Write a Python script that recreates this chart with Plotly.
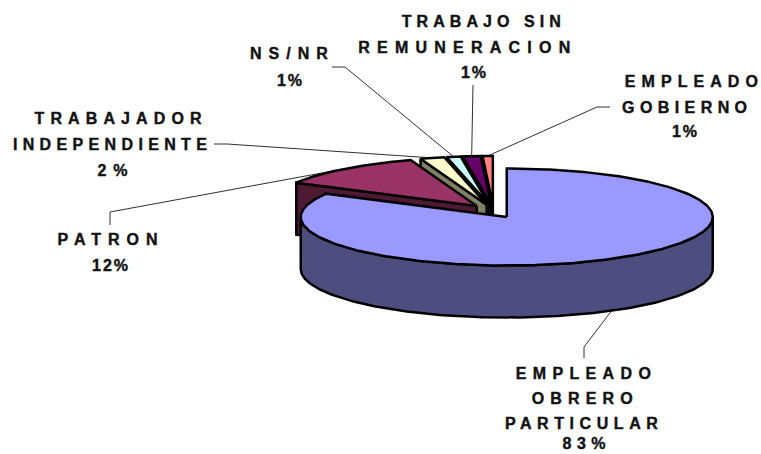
import numpy as np
import plotly.graph_objects as go

# ---- data ----
categories = ["EMPLEADO OBRERO PARTICULAR", "PATRON", "TRABAJADOR INDEPENDIENTE",
              "NS/NR", "TRABAJO SIN REMUNERACION", "EMPLEADO GOBIERNO"]
values = [83.0, 11.8, 1.9, 1.1, 1.4, 0.8]
percent_labels = ["83%", "12%", "2%", "1%", "1%", "1%"]
top_colors = ["#9999FF", "#993366", "#FFFFCC", "#CCFFFF", "#660066", "#FF8080"]
side_colors = ["#4D4D80", "#4D1933", "#808066", "#668080", "#330033", "#804040"]

# ---- pie geometry (pixel-based axes) ----
W, H = 761, 454
CX, CY = 493.5, 211.2
RX, RY = 206.0, 48.5
DEPTH = 52.0
EXPLODE = 26.0
EXPLODE_Y = 0.26
LINE = 2.5

total = sum(values)
spans = []
start = 0.0
for v in values:
    end = start + v / total * 360.0
    spans.append((start, end))
    start = end


def apex(s, e):
    m = np.radians((s + e) / 2)
    return CX + EXPLODE * np.sin(m), CY - EXPLODE * np.cos(m) * EXPLODE_Y


def rim(ax, ay, deg):
    t = np.radians(deg)
    return ax + RX * np.sin(t), ay - RY * np.cos(t)


def poly(xs, ys, fill):
    return go.Scatter(x=list(xs) + [xs[0]], y=list(ys) + [ys[0]], mode="lines",
                      fill="toself", fillcolor=fill,
                      line=dict(color="black", width=LINE, shape="linear"),
                      hoverinfo="skip", showlegend=False)


fig = go.Figure()

# ---- leader lines: label elbow to the middle of each slice's rim ----
leader_stubs = {
    0: [(584, 358), (584, 347)],
    1: [(110, 225), (110, 212)],
    2: [(214, 144), (227, 144)],
    3: [(332, 67), (345, 67)],
    4: [(473, 85)],
    5: [(610, 107), (597, 107)],
}
for i, pts in leader_stubs.items():
    s, e = spans[i]
    ax, ay = apex(s, e)
    mx, my = rim(ax, ay, (s + e) / 2)
    if i == 0:
        my += DEPTH
    xs = [p[0] for p in pts] + [mx]
    ys = [p[1] for p in pts] + [my]
    fig.add_trace(go.Scatter(x=xs, y=ys, mode="lines",
                             line=dict(color="#303030", width=1),
                             hoverinfo="skip", showlegend=False))

# ---- slices, far to near ----
for i in [5, 4, 3, 2, 1, 0]:
    s, e = spans[i]
    ax, ay = apex(s, e)
    # cut faces that turn toward the viewer
    for deg, show in ((s, np.sin(np.radians(s)) < -1e-6), (e, np.sin(np.radians(e)) > 1e-6)):
        if show:
            rx_, ry_ = rim(ax, ay, deg)
            fig.add_trace(poly([ax, rx_, rx_, ax], [ay, ry_, ry_ + DEPTH, ay + DEPTH], side_colors[i]))
    # outer wall
    lo, hi = max(s, 90.0), min(e, 270.0)
    if lo < hi:
        deg = np.arange(lo, hi + 0.5, 1.0)
        xr, yr = rim(ax, ay, deg)
        fig.add_trace(poly(np.r_[xr, xr[::-1]], np.r_[yr, yr[::-1] + DEPTH], side_colors[i]))
    # top face
    deg = np.r_[np.arange(s, e, 1.0), e]
    xr, yr = rim(ax, ay, deg)
    fig.add_trace(poly(np.r_[ax, xr], np.r_[ay, yr], top_colors[i]))

# ---- label lines: text, centre x, centre y, drawn width ----
label_lines = [
    ("EMPLEADO", 583, 373, 135), ("OBRERO", 582, 398, 101), ("PARTICULAR", 581, 423, 153),
    (percent_labels[0], 584, 443.5, 43),
    ("PATRON", 107, 239, 100), (percent_labels[1], 110, 265, 36),
    ("TRABAJADOR", 118, 118, 167), ("INDEPENDIENTE", 110, 144, 194), (percent_labels[2], 112, 170, 30),
    ("NS/NR", 289, 53, 78), (percent_labels[3], 289, 80, 25),
    ("TRABAJO SIN", 481, 21, 159), ("REMUNERACION", 464, 47, 212), (percent_labels[4], 473, 72, 25),
    ("EMPLEADO", 691, 81, 133), ("GOBIERNO", 684, 107, 125), (percent_labels[5], 684, 131, 25),
]
for text, x, y, _ in label_lines:
    fig.add_annotation(x=x, y=y, text=text, showarrow=False, xanchor="center", yanchor="middle",
                       font=dict(family="Liberation Sans", size=16, color="#111111", weight="bold"))

fig.update_layout(
    width=W, height=H, margin=dict(l=0, r=0, t=0, b=0),
    paper_bgcolor="white", plot_bgcolor="white", showlegend=False,
    xaxis=dict(range=[0, W], visible=False, fixedrange=True),
    yaxis=dict(range=[H, 0], visible=False, fixedrange=True),
)

widths = [w for *_, w in label_lines]
post = """
document.body.style.margin = '0';
var w = %s;
document.querySelectorAll('text.annotation-text').forEach(function (t, i) {
  t.setAttribute('textLength', w[i]);
  t.setAttribute('lengthAdjust', 'spacing');
  t.style.fontWeight = '700';
  t.style.stroke = '#111111';
  t.style.strokeWidth = '0.4px';
});
""" % widths
fig.write_html("out.html", post_script=post, config=dict(displayModeBar=False))
